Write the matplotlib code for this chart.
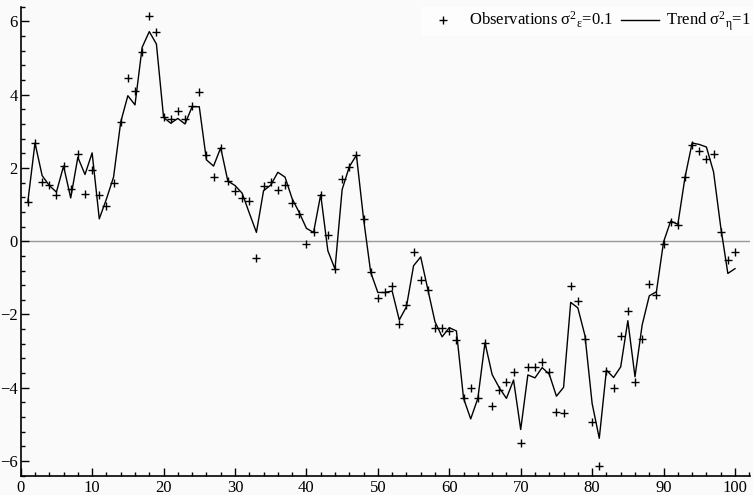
import matplotlib
matplotlib.use('Agg')
import matplotlib.pyplot as plt
from matplotlib.ticker import MultipleLocator

# time index
t = list(range(1, 101))

# observations (+ markers)
obs = [1.06, 2.68, 1.61, 1.54, 1.27, 2.05, 1.43, 2.39, 1.29, 1.95,
       1.25, 0.95, 1.59, 3.25, 4.45, 4.11, 5.17, 6.15, 5.72, 3.38,
       3.34, 3.56, 3.33, 3.68, 4.06, 2.34, 1.76, 2.55, 1.65, 1.37,
       1.17, 1.11, -0.45, 1.50, 1.62, 1.41, 1.53, 1.05, 0.75, -0.09,
       0.25, 1.27, 0.16, -0.76, 1.69, 2.03, 2.35, 0.61, -0.85, -1.55,
       -1.40, -1.22, -2.26, -1.73, -0.29, -1.07, -1.32, -2.36, -2.36, -2.45,
       -2.70, -4.29, -4.02, -4.29, -2.77, -4.50, -4.06, -3.85, -3.57, -5.52,
       -3.43, -3.43, -3.29, -3.58, -4.67, -4.68, -1.23, -1.64, -2.67, -4.93,
       -6.14, -3.54, -4.02, -2.58, -1.91, -3.83, -2.68, -1.17, -1.47, -0.08,
       0.53, 0.44, 1.74, 2.62, 2.46, 2.25, 2.39, 0.25, -0.52, -0.29]

# trend (solid line)
trend = [1.08, 2.68, 1.79, 1.52, 1.34, 2.05, 1.18, 2.29, 1.82, 2.41,
         0.61, 1.15, 1.75, 3.25, 3.97, 3.72, 5.29, 5.72, 5.38, 3.38,
         3.22, 3.35, 3.20, 3.67, 3.67, 2.22, 2.05, 2.55, 1.64, 1.52,
         1.31, 0.77, 0.24, 1.38, 1.53, 1.88, 1.75, 1.16, 0.78, 0.35,
         0.24, 1.27, -0.26, -0.76, 1.41, 2.03, 2.35, 0.61, -0.85, -1.40,
         -1.40, -1.36, -2.15, -1.79, -0.67, -0.43, -1.32, -2.20, -2.61, -2.36,
         -2.45, -4.29, -4.85, -4.29, -2.77, -3.64, -4.00, -4.29, -3.79, -5.14,
         -3.65, -3.73, -3.45, -3.63, -4.23, -3.99, -1.67, -1.82, -2.58, -4.43,
         -5.38, -3.52, -3.72, -3.43, -2.17, -3.70, -2.29, -1.49, -1.38, -0.02,
         0.55, 0.46, 1.74, 2.68, 2.64, 2.57, 1.89, 0.39, -0.88, -0.75]

obs_label = r'Observations σ$^{2}{}_{\mathrm{ε}}$=0.1'
trend_label = r'Trend σ$^{2}{}_{\mathrm{η}}$=1'

plt.rcParams['font.family'] = ['Liberation Serif', 'DejaVu Serif']
plt.rcParams['mathtext.fontset'] = 'custom'
plt.rcParams['mathtext.rm'] = 'Liberation Serif'
plt.rcParams['mathtext.it'] = 'Liberation Serif:italic'

bg = '#fafafa'
fig = plt.figure(figsize=(7.53, 4.95), dpi=100, facecolor=bg)
ax = fig.add_axes([0.0275, 0.039, 0.9685, 0.9475], facecolor=bg)

ax.axhline(0, color='#999999', lw=1.0, zorder=1)
ax.plot(t, trend, color='black', lw=1.0, label=trend_label, zorder=3)
ax.plot(t, obs, ls='none', marker='+', ms=5.5, mew=1.0, color='black',
        label=obs_label, zorder=4)

ax.set_xlim(0, 102.1)
ax.set_ylim(-6.4, 6.4)

ax.xaxis.set_major_locator(MultipleLocator(10))
ax.xaxis.set_minor_locator(MultipleLocator(2))
ax.yaxis.set_major_locator(MultipleLocator(2))
ax.yaxis.set_minor_locator(MultipleLocator(0.4))
ax.tick_params(which='major', direction='in', length=6, width=1, labelsize=12, pad=3)
ax.tick_params(which='minor', direction='in', length=3, width=1)
ax.tick_params(axis='y', pad=2)

for s in ['top', 'right']:
    ax.spines[s].set_visible(False)
for s in ['left', 'bottom']:
    ax.spines[s].set_linewidth(1.2)

h, l = ax.get_legend_handles_labels()
leg = fig.legend(h[::-1], l[::-1], loc='upper right', ncol=2, fontsize=12,
                 frameon=True, fancybox=False, borderaxespad=0.0,
                 handlelength=2.3, columnspacing=0.5, handletextpad=0.4,
                 borderpad=0.15, bbox_to_anchor=(1.0, 0.985))
leg.get_frame().set_facecolor('white')
leg.get_frame().set_edgecolor('none')

fig.savefig('out.png', dpi=100, facecolor=bg)
